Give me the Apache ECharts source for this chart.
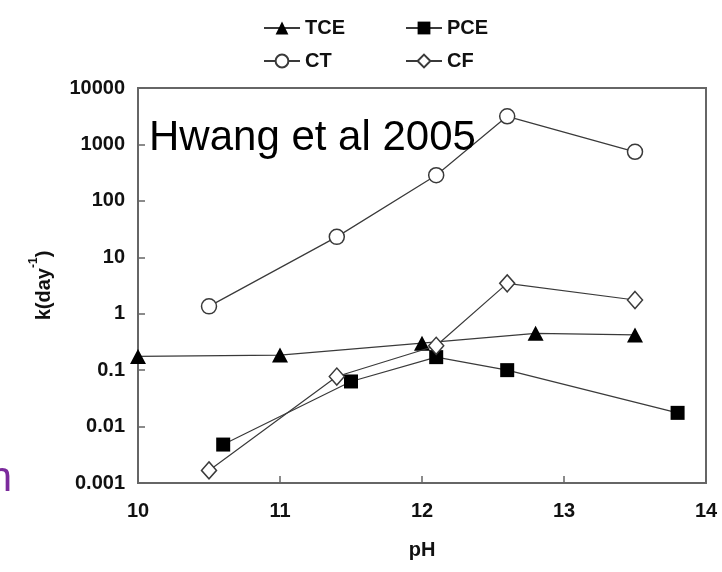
<!DOCTYPE html>
<html>
<head>
<meta charset="utf-8">
<script src="https://cdn.jsdelivr.net/npm/echarts@6/dist/echarts.min.js"></script>
<style>
html,body{margin:0;padding:0;background:#fff;}
#c{width:722px;height:572px;}
</style>
</head>
<body>
<div id="c"></div>
<script>
// ---- data ----
var seriesNames = ['TCE', 'PCE', 'CT', 'CF'];
var tceX = [10.0, 11.0, 12.0, 12.8, 13.5];
var tceY = [0.175, 0.185, 0.30, 0.45, 0.42];
var pceX = [10.6, 11.5, 12.1, 12.6, 13.8];
var pceY = [0.0048, 0.063, 0.17, 0.10, 0.0175];
var ctX = [10.5, 11.4, 12.1, 12.6, 13.5];
var ctY = [1.35, 23, 285, 3150, 740];
var cfX = [10.5, 11.4, 12.1, 12.6, 13.5];
var cfY = [0.00167, 0.077, 0.27, 3.45, 1.75];
var xTickLabels = ['10', '11', '12', '13', '14'];
var yTickLabels = ['0.001', '0.01', '0.1', '1', '10', '100', '1000', '10000'];

function pairs(xs, ys) { return xs.map(function (x, i) { return [x, ys[i]]; }); }

var FONT = 'Liberation Sans';
var lineStyle = { color: '#3a3a3a', width: 1.2 };

var chart = echarts.init(document.getElementById('c'));
chart.setOption({
  animation: false,
  backgroundColor: '#fff',
  grid: { left: 138, right: 16, top: 88, bottom: 89, show: true, borderColor: '#666', borderWidth: 2, backgroundColor: 'transparent' },
  legend: [
    { data: ['TCE', 'CT'], orient: 'vertical', left: 258, top: 13, itemGap: 13, itemWidth: 36, itemHeight: 16,
      textStyle: { fontFamily: FONT, fontWeight: 'bold', fontSize: 20, color: '#111' } },
    { data: ['PCE', 'CF'], orient: 'vertical', left: 400, top: 13, itemGap: 13, itemWidth: 36, itemHeight: 16,
      textStyle: { fontFamily: FONT, fontWeight: 'bold', fontSize: 20, color: '#111' } }
  ],
  xAxis: {
    type: 'value', min: 10, max: 14, interval: 1,
    name: 'pH', nameLocation: 'middle', nameGap: 57,
    nameTextStyle: { fontFamily: FONT, fontWeight: 'bold', fontSize: 20, color: '#111' },
    axisLine: { show: false },
    axisTick: { show: true, inside: true, length: 7, lineStyle: { color: '#666', width: 1.5 } },
    splitLine: { show: false },
    axisLabel: { margin: 18, fontFamily: FONT, fontWeight: 'bold', fontSize: 20, color: '#111',
      formatter: function (v) { var i = Math.round(v - 10); return xTickLabels[i] || ''; } }
  },
  yAxis: {
    type: 'log', logBase: 10, min: 0.001, max: 10000,
    name: '{a|k(day}{s|-1}{a|)}', nameLocation: 'middle', nameGap: 84,
    nameTextStyle: { fontFamily: FONT, fontWeight: 'bold', fontSize: 20, color: '#111',
      rich: {
        a: { fontFamily: FONT, fontWeight: 'bold', fontSize: 20, color: '#111', verticalAlign: 'bottom', lineHeight: 26 },
        s: { fontFamily: FONT, fontWeight: 'bold', fontSize: 12, color: '#111', verticalAlign: 'top', lineHeight: 26 }
      } },
    axisLine: { show: false },
    axisTick: { show: true, inside: true, length: 7, lineStyle: { color: '#666', width: 1.5 } },
    splitLine: { show: false },
    minorTick: { show: false },
    axisLabel: { margin: 13, fontFamily: FONT, fontWeight: 'bold', fontSize: 20, color: '#111',
      formatter: function (v) { var i = Math.round(Math.log10(v)) + 3; return yTickLabels[i] || ''; } }
  },
  series: [
    { name: 'TCE', type: 'line', data: pairs(tceX, tceY), symbol: 'triangle', symbolSize: [16, 15],
      itemStyle: { color: '#000', borderWidth: 0 }, lineStyle: lineStyle, z: 3 },
    { name: 'PCE', type: 'line', data: pairs(pceX, pceY), symbol: 'rect', symbolSize: 14,
      itemStyle: { color: '#000', borderWidth: 0 }, lineStyle: lineStyle, z: 3 },
    { name: 'CT', type: 'line', data: pairs(ctX, ctY), symbol: 'circle', symbolSize: 15,
      itemStyle: { color: '#fff', borderColor: '#3a3a3a', borderWidth: 1.5 }, lineStyle: lineStyle, z: 4 },
    { name: 'CF', type: 'line', data: pairs(cfX, cfY), symbol: 'diamond', symbolSize: [15, 17],
      itemStyle: { color: '#fff', borderColor: '#3a3a3a', borderWidth: 1.5 }, lineStyle: lineStyle, z: 4 }
  ],
  graphic: [
    { type: 'text', left: 149, top: 117, z: 10,
      style: { text: 'Hwang et al 2005', fontFamily: FONT, fontSize: 42, fill: '#000' } },
    { type: 'text', x: 12, y: 458, z: 10,
      style: { text: 'n', fontFamily: FONT, fontSize: 42, fill: '#7b2a9c', align: 'right', verticalAlign: 'top' } }
  ]
});
</script>
</body>
</html>
